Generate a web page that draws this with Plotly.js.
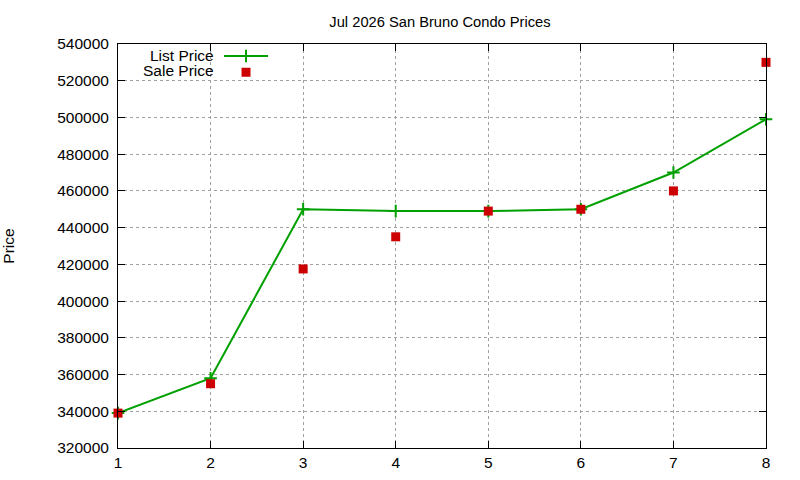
<!DOCTYPE html>
<html>
<head>
<meta charset="utf-8">
<script src="https://cdn.plot.ly/plotly-3.0.1.min.js"></script>
<style>
  html, body { margin: 0; padding: 0; background: #fff; }
  #chart { width: 800px; height: 480px; }
</style>
</head>
<body>
<div id="chart"></div>
<script>
const months = [1, 2, 3, 4, 5, 6, 7, 8];
const listPrice = [339000, 358000, 450000, 449000, 449000, 450000, 470000, 499000];
const salePrice = [339000, 355000, 417500, 435000, 449000, 450000, 460000, 530000];
const yTicks = [320000, 340000, 360000, 380000, 400000, 420000, 440000, 460000, 480000, 500000, 520000, 540000];

const font = { family: 'Liberation Sans, Arial, sans-serif', size: 15.5, color: '#000' };
const hiddenText = { ...font, size: 1, color: 'rgba(0,0,0,0)' };

// gnuplot-style key: text right-aligned, sample to the right of it
const listTrace = {
  x: months,
  y: listPrice,
  name: 'List Price',
  type: 'scatter',
  mode: 'lines+markers',
  line: { color: '#00a000', width: 2 },
  marker: { symbol: 'cross-thin', size: 9, line: { color: '#00a000', width: 2 } },
  cliponaxis: false,
  legend: 'legend'
};

const saleTrace = {
  x: months,
  y: salePrice,
  name: 'Sale Price',
  type: 'scatter',
  mode: 'markers',
  marker: { symbol: 'square', size: 9, color: '#cc0000' },
  cliponaxis: false,
  legend: 'legend2'
};

const axisBase = {
  showline: true,
  linecolor: '#000',
  linewidth: 1,
  mirror: 'ticks',
  ticks: 'inside',
  ticklen: 7,
  tickcolor: '#000',
  showgrid: true,
  gridcolor: '#a0a0a0',
  griddash: 'dot',
  gridwidth: 1,
  zeroline: false,
  tickfont: font
};

const keyBase = {
  xanchor: 'left',
  yanchor: 'top',
  bgcolor: 'rgba(0,0,0,0)',
  font: hiddenText,
  itemwidth: 44,
  x: 0.1559
};

const keyLabel = {
  xref: 'paper',
  yref: 'paper',
  x: 0.1512,
  xanchor: 'right',
  yanchor: 'middle',
  height: 15,
  valign: 'middle',
  showarrow: false,
  font: font
};

const layout = {
  width: 800,
  height: 480,
  margin: { l: 118, r: 34, t: 44, b: 32 },
  paper_bgcolor: '#fff',
  plot_bgcolor: '#fff',
  font: font,
  title: { text: 'Jul 2026 San Bruno Condo Prices', x: 0.55, xanchor: 'center', y: 0.954, yanchor: 'middle', font: { ...font, size: 14.7 } },
  xaxis: {
    ...axisBase,
    range: [1, 8],
    tickvals: months,
    ticktext: months.map(String)
  },
  yaxis: {
    ...axisBase,
    range: [320000, 540000],
    tickvals: yTicks,
    ticktext: yTicks.map(String),
    ticklabelstandoff: 5,
    title: { text: 'Price', font: font, standoff: 40 }
  },
  showlegend: true,
  legend: { ...keyBase, y: 1.0062 },
  legend2: { ...keyBase, y: 0.9661 },
  annotations: [
    { ...keyLabel, text: 'List Price', y: 0.9703 },
    { ...keyLabel, text: 'Sale Price', y: 0.9332 }
  ]
};

Plotly.newPlot('chart', [listTrace, saleTrace], layout, { displayModeBar: false, staticPlot: true });
</script>
</body>
</html>
